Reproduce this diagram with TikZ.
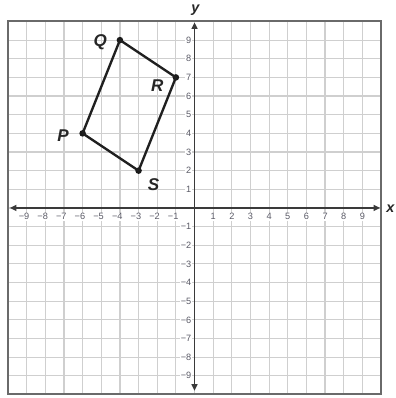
\documentclass[tikz,border=0pt]{standalone}
\usepackage{fontspec}
\setmainfont{Liberation Sans}
\usetikzlibrary{arrows.meta}
\definecolor{gridc}{HTML}{CFCFCF}
\definecolor{framec}{HTML}{6A6A6A}
\definecolor{axisc}{HTML}{3A3A3A}
\definecolor{tickc}{HTML}{5A5A66}
\begin{document}
\begin{tikzpicture}[x=0.5cm,y=0.5cm,
  gridline/.style={draw=gridc,line width=0.9pt},
  frameline/.style={draw=framec,line width=1.5pt},
  axisline/.style={draw=axisc,line width=1.4pt,{Triangle[length=5pt,width=4.5pt]}-{Triangle[length=5pt,width=4.5pt]}},
  xtick/.style={font=\fontsize{7}{8}\selectfont,text=tickc,fill=white,inner sep=0.6pt},
  ytick/.style={font=\fontsize{7}{8}\selectfont,text=tickc,fill=white,inner sep=0.6pt,anchor=east},
  ptlabel/.style={font=\fontsize{13}{15}\selectfont\bfseries\itshape,text=black!85},
  axlabel/.style={font=\fontsize{11}{13}\selectfont\bfseries\itshape,text=black!85},
  vertex/.style={circle,fill=black!90,inner sep=0pt,minimum size=5pt},
  side/.style={draw=black!88,line width=1.8pt,line join=round}]
\useasboundingbox (-10.43,-10.19) rectangle (10.75,11.15);
% grid
\foreach \i in {-9,...,9}{
  \draw[gridline] (\i,-10) -- (\i,10);
  \draw[gridline] (-10,\i) -- (10,\i);
}
\draw[frameline] (-10,-10) rectangle (10,10);
% tick labels
\foreach \i in {1,...,9}{
  \node[xtick] (xp\i) at (\i,-0.47) {\i};
  \node[xtick] (xn\i) at (-\i,-0.47) {\llap{−}\i};
  \node[ytick] (yp\i) at (-0.12,\i) {\i};
  \node[ytick] (yn\i) at (-0.12,-\i) {−\i};
}
% axes
\coordinate (xl) at (-9.9,0);
\coordinate (xr) at (9.95,0);
\coordinate (yb) at (0,-9.8);
\coordinate (yt) at (0,9.95);
\draw[axisline] (xl) -- (xr);
\draw[axisline] (yb) -- (yt);
\node[axlabel] (xlab) at (10.5,-0.05) {x};
\node[axlabel] (ylab) at (0.05,10.6) {y};
% quadrilateral
\node[vertex] (P) at (-6,4) {};
\node[vertex] (Q) at (-4,9) {};
\node[vertex] (R) at (-1,7) {};
\node[vertex] (S) at (-3,2) {};
\draw[side] (P.center) -- (Q.center) -- (R.center) -- (S.center) -- cycle;
\node[ptlabel] (Plab) at (-7.05,3.9) {P};
\node[ptlabel] (Qlab) at (-5.05,8.9) {Q};
\node[ptlabel] (Rlab) at (-2.0,6.55) {R};
\node[ptlabel] (Slab) at (-2.2,1.25) {S};
\end{tikzpicture}
\end{document}
